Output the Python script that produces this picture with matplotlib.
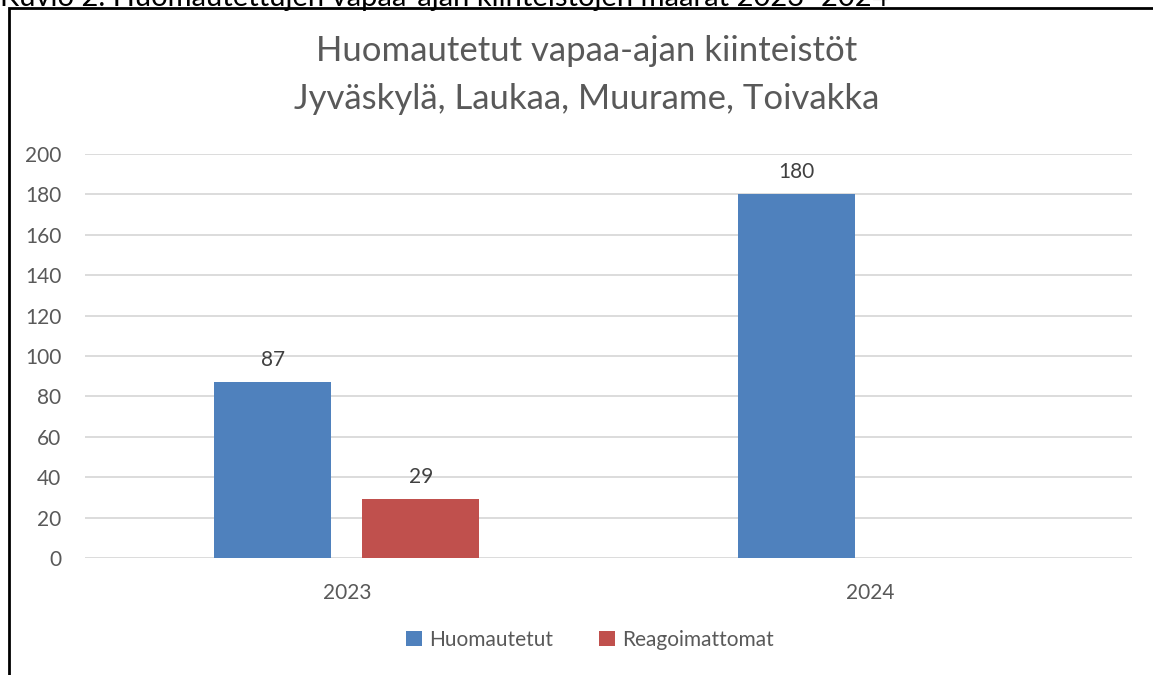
import matplotlib
matplotlib.use("Agg")
import matplotlib.pyplot as plt
import numpy as np
from matplotlib.patches import Rectangle

categories = ["2023", "2024"]
series_names = ["Huomautetut", "Reagoimattomat"]
huomautetut = [87, 180]
reagoimattomat = [29, np.nan]
yticks = [0, 20, 40, 60, 80, 100, 120, 140, 160, 180, 200]
title = "Huomautetut vapaa-ajan kiinteistöt\nJyväskylä, Laukaa, Muurame, Toivakka"
caption = "Kuvio 2. Huomautettujen vapaa-ajan kiinteistöjen määrät 2023–2024"

plt.rcParams['font.family'] = ['Lato', 'DejaVu Sans']
TXT = '#595959'
W, H = 1153, 675
fig = plt.figure(figsize=(W / 100, H / 100), dpi=100)

# outer frame (extends beyond bottom/right)
fig.patches.append(Rectangle((9 / W, -0.1), 1.2, 1 - 8 / H + 0.1, transform=fig.transFigure,
                             fill=False, edgecolor='black', linewidth=2, zorder=0))
fig.text(0.0, 1 - 6 / H, caption, ha='left', va='baseline', fontsize=21, color='black')

ax = fig.add_axes([85 / W, 1 - 558 / H, (1132 - 85) / W, (558 - 154) / H])
x = np.arange(len(categories))
bw = 0.2235
off = 0.1414
colors = ['#4F81BD', '#C0504D']
for i, (vals, name) in enumerate(zip([huomautetut, reagoimattomat], series_names)):
    pos = x + (-off if i == 0 else off)
    bars = ax.bar(pos, vals, width=bw, color=colors[i], label=name, zorder=3)
    for p, v in zip(pos, vals):
        if not np.isnan(v):
            ax.text(p, v + 6, f"{v:g}", ha='center', va='bottom', fontsize=15, color='#404040')

ax.set_xlim(-0.5, 1.5)
ax.set_ylim(0, 200)
ax.set_yticks(yticks)
ax.set_xticks(x)
ax.set_xticklabels(categories)
ax.grid(axis='y', color='#D9D9D9', linewidth=1.3, zorder=0)
ax.set_axisbelow(True)
for s in ax.spines.values():
    s.set_visible(False)
ax.tick_params(axis='both', length=0, labelsize=15, labelcolor=TXT)
ax.tick_params(axis='y', pad=17)
ax.tick_params(axis='x', pad=18)

fig.text(587 / W, 1 - 75 / H, title, ha='center', va='center', fontsize=25, color=TXT,
         linespacing=1.6)

leg = fig.legend(loc='center', bbox_to_anchor=(590 / W, 1 - 640 / H), ncol=2, frameon=False,
                 fontsize=15, handlelength=0.75, handleheight=0.75, columnspacing=2.2,
                 handletextpad=0.35, labelcolor=TXT)

fig.savefig('out.png', dpi=100, facecolor='white')
